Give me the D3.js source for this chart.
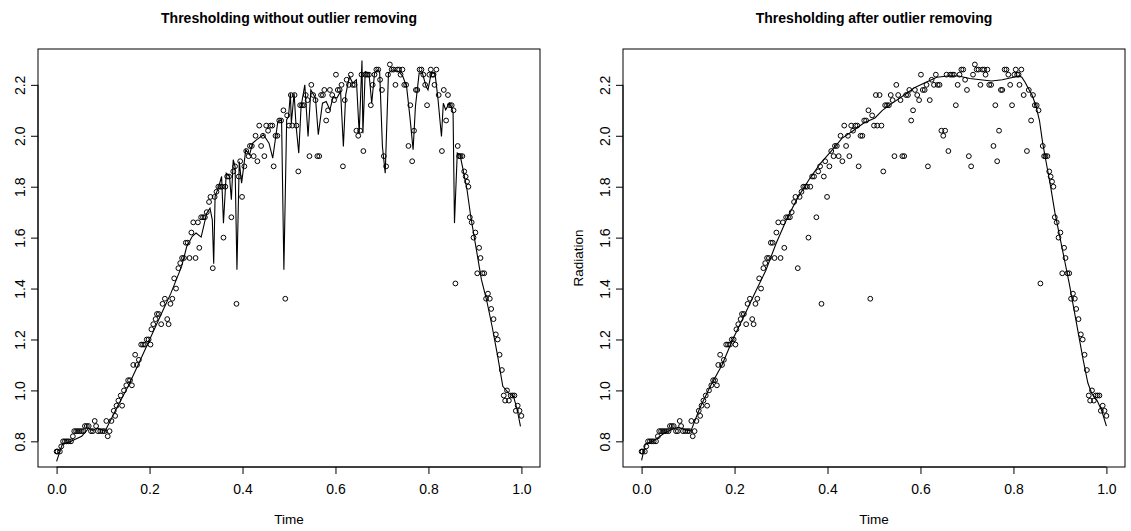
<!DOCTYPE html>
<html>
<head>
<meta charset="utf-8">
<script src="https://cdn.jsdelivr.net/npm/d3@7"></script>
<style>
  body { margin: 0; background: #fff; }
  text { font-family: "Liberation Sans", Arial, sans-serif; fill: #000; }
</style>
</head>
<body>
<svg id="svg" width="1131" height="531"></svg>
<script>
// observations (time scaled to [0,1])
const time = [
  0.000, 0.002, 0.007, 0.010, 0.014, 0.018, 0.022, 0.026, 0.031, 0.035,
  0.038, 0.042, 0.046, 0.050, 0.054, 0.058, 0.061, 0.065, 0.069, 0.074,
  0.078, 0.082, 0.085, 0.089, 0.094, 0.099, 0.103, 0.107, 0.110, 0.114,
  0.118, 0.123, 0.126, 0.129, 0.133, 0.138, 0.141, 0.145, 0.150, 0.154,
  0.158, 0.162, 0.165, 0.169, 0.173, 0.177, 0.182, 0.186, 0.190, 0.194,
  0.198, 0.202, 0.204, 0.208, 0.213, 0.216, 0.220, 0.225, 0.228, 0.233,
  0.238, 0.241, 0.245, 0.249, 0.253, 0.257, 0.262, 0.266, 0.270, 0.274,
  0.278, 0.282, 0.286, 0.290, 0.294, 0.299, 0.304, 0.307, 0.311, 0.315,
  0.319, 0.323, 0.328, 0.331, 0.336, 0.340, 0.344, 0.348, 0.352, 0.356,
  0.359, 0.363, 0.367, 0.371, 0.376, 0.380, 0.384, 0.387, 0.392, 0.395,
  0.399, 0.404, 0.408, 0.413, 0.416, 0.420, 0.424, 0.428, 0.432, 0.436,
  0.440, 0.444, 0.447, 0.451, 0.455, 0.460, 0.464, 0.467, 0.471, 0.475,
  0.479, 0.483, 0.488, 0.492, 0.496, 0.500, 0.504, 0.507, 0.512, 0.516,
  0.520, 0.524, 0.528, 0.532, 0.536, 0.540, 0.544, 0.548, 0.552, 0.557,
  0.561, 0.565, 0.569, 0.573, 0.576, 0.580, 0.584, 0.588, 0.593, 0.597,
  0.601, 0.605, 0.609, 0.613, 0.616, 0.620, 0.624, 0.629, 0.633, 0.637,
  0.641, 0.645, 0.649, 0.653, 0.656, 0.660, 0.664, 0.668, 0.672, 0.676,
  0.680, 0.684, 0.688, 0.692, 0.696, 0.700, 0.704, 0.709, 0.713, 0.717,
  0.721, 0.725, 0.729, 0.733, 0.737, 0.740, 0.744, 0.748, 0.752, 0.757,
  0.761, 0.765, 0.769, 0.773, 0.776, 0.781, 0.785, 0.789, 0.793, 0.797,
  0.802, 0.805, 0.808, 0.811, 0.813, 0.817, 0.822, 0.829, 0.833, 0.838,
  0.842, 0.846, 0.850, 0.854, 0.858, 0.863, 0.866, 0.869, 0.873, 0.877,
  0.880, 0.883, 0.886, 0.889, 0.893, 0.897, 0.901, 0.905, 0.909, 0.912,
  0.916, 0.920, 0.924, 0.928, 0.932, 0.935, 0.940, 0.945, 0.949, 0.953,
  0.958, 0.962, 0.965, 0.969, 0.973, 0.977, 0.981, 0.985, 0.988, 0.992,
  0.996, 1.000
]
const radiation = [
  0.76, 0.76, 0.76, 0.78, 0.80, 0.80, 0.80, 0.80, 0.80, 0.82,
  0.84, 0.84, 0.84, 0.84, 0.84, 0.84, 0.86, 0.86, 0.86, 0.84,
  0.84, 0.88, 0.86, 0.84, 0.84, 0.84, 0.84, 0.88, 0.82, 0.84,
  0.88, 0.92, 0.90, 0.94, 0.96, 0.98, 0.94, 1.00, 1.02, 1.04,
  1.04, 1.02, 1.10, 1.14, 1.10, 1.12, 1.18, 1.18, 1.18, 1.20,
  1.20, 1.18, 1.24, 1.26, 1.28, 1.30, 1.30, 1.26, 1.34, 1.36,
  1.28, 1.26, 1.34, 1.36, 1.44, 1.40, 1.48, 1.50, 1.52, 1.52,
  1.58, 1.58, 1.52, 1.62, 1.66, 1.52, 1.66, 1.56, 1.68, 1.68,
  1.68, 1.70, 1.74, 1.76, 1.48, 1.76, 1.78, 1.80, 1.80, 1.80,
  1.60, 1.80, 1.84, 1.84, 1.68, 1.86, 1.88, 1.34, 1.84, 1.90,
  1.76, 1.88, 1.94, 1.92, 1.96, 1.96, 1.92, 2.00, 1.90, 2.04,
  1.96, 2.00, 1.92, 2.04, 2.02, 2.04, 2.04, 1.88, 2.00, 2.00,
  2.06, 2.06, 2.10, 1.36, 2.08, 2.04, 2.16, 2.04, 2.16, 2.04,
  1.86, 2.12, 2.12, 2.12, 2.16, 2.14, 1.92, 2.20, 2.16, 2.14,
  1.92, 1.92, 2.16, 2.16, 2.18, 2.06, 2.10, 2.18, 2.16, 2.14,
  2.24, 2.18, 2.18, 2.20, 1.88, 2.14, 2.22, 2.20, 2.24, 2.20,
  2.20, 2.02, 2.00, 2.02, 2.24, 1.94, 2.24, 2.24, 2.24, 2.12,
  2.20, 2.24, 2.26, 2.26, 2.22, 2.18, 1.92, 1.88, 2.24, 2.28,
  2.26, 2.26, 2.20, 2.26, 2.26, 2.24, 2.26, 2.20, 2.20, 1.96,
  2.12, 1.90, 2.02, 2.18, 2.18, 2.26, 2.26, 2.24, 2.20, 2.12,
  2.24, 2.26, 2.24, 2.24, 2.20, 2.26, 2.16, 1.94, 2.18, 2.06,
  2.16, 2.12, 2.12, 2.10, 1.42, 1.96, 1.92, 1.92, 1.92, 1.86,
  1.84, 1.82, 1.80, 1.68, 1.66, 1.60, 1.62, 1.46, 1.56, 1.52,
  1.46, 1.46, 1.36, 1.38, 1.36, 1.32, 1.28, 1.22, 1.20, 1.14,
  1.08, 0.98, 0.96, 1.00, 0.96, 0.98, 0.98, 0.98, 0.92, 0.94,
  0.92, 0.90
]

// fit from thresholding on the raw data (left panel)
const rawFitTime = [
  0.000, 0.012, 0.031, 0.054, 0.069, 0.077, 0.088, 0.100, 0.104, 0.131,
  0.154, 0.177, 0.200, 0.223, 0.246, 0.269, 0.280, 0.292, 0.300, 0.311,
  0.323, 0.330, 0.335, 0.338, 0.341, 0.349, 0.355, 0.359, 0.365, 0.372,
  0.376, 0.380, 0.384, 0.388, 0.393, 0.398, 0.403, 0.407, 0.415, 0.422,
  0.430, 0.445, 0.457, 0.465, 0.476, 0.484, 0.489, 0.495, 0.499, 0.503,
  0.505, 0.511, 0.515, 0.521, 0.526, 0.534, 0.541, 0.547, 0.557, 0.563,
  0.572, 0.580, 0.588, 0.595, 0.603, 0.611, 0.617, 0.622, 0.630, 0.637,
  0.645, 0.651, 0.657, 0.659, 0.664, 0.672, 0.678, 0.684, 0.691, 0.695,
  0.701, 0.707, 0.714, 0.722, 0.737, 0.745, 0.753, 0.760, 0.767, 0.772,
  0.780, 0.787, 0.795, 0.799, 0.806, 0.814, 0.820, 0.828, 0.832, 0.837,
  0.845, 0.849, 0.853, 0.856, 0.862, 0.868, 0.876, 0.883, 0.891, 0.902,
  0.914, 0.925, 0.937, 0.949, 0.960, 0.972, 0.983, 0.991, 0.998
]
const rawFit = [
  0.721, 0.787, 0.800, 0.820, 0.852, 0.843, 0.852, 0.843, 0.839, 0.937,
  1.016, 1.107, 1.199, 1.291, 1.382, 1.487, 1.565, 1.605, 1.618, 1.602,
  1.696, 1.716, 1.670, 1.497, 1.762, 1.801, 1.840, 1.657, 1.853, 1.840,
  1.749, 1.906, 1.879, 1.474, 1.899, 1.814, 1.886, 1.945, 1.925, 1.971,
  1.984, 2.004, 1.971, 1.912, 2.056, 2.063, 1.474, 2.063, 2.076, 2.167,
  2.049, 2.167, 2.043, 1.932, 2.115, 2.200, 1.997, 2.180, 2.148, 2.004,
  2.128, 2.135, 2.102, 2.154, 2.148, 2.174, 1.958, 2.161, 2.233, 2.207,
  2.220, 2.010, 2.296, 2.010, 2.252, 2.246, 2.128, 2.246, 2.259, 2.252,
  1.958, 1.853, 2.246, 2.259, 2.252, 2.233, 2.193, 2.076, 1.945, 2.115,
  2.246, 2.246, 2.193, 2.180, 2.246, 2.246, 2.154, 1.997, 2.128, 2.102,
  2.128, 2.115, 2.089, 1.657, 1.932, 1.925, 1.853, 1.788, 1.683, 1.565,
  1.435, 1.356, 1.251, 1.134, 1.016, 0.990, 0.977, 0.924, 0.859
]

// fit after outlier removal (right panel)
const cleanFitTime = [
  0.000, 0.008, 0.024, 0.047, 0.063, 0.078, 0.094, 0.106, 0.125, 0.149,
  0.173, 0.196, 0.220, 0.243, 0.267, 0.290, 0.314, 0.337, 0.361, 0.384,
  0.408, 0.431, 0.455, 0.478, 0.502, 0.518, 0.541, 0.565, 0.588, 0.612,
  0.635, 0.659, 0.682, 0.706, 0.729, 0.753, 0.776, 0.800, 0.812, 0.818,
  0.825, 0.831, 0.840, 0.848, 0.856, 0.863, 0.870, 0.880, 0.889, 0.899,
  0.909, 0.920, 0.930, 0.940, 0.950, 0.960, 0.968, 0.980, 0.990, 1.000
]
const cleanFit = [
  0.725, 0.790, 0.800, 0.830, 0.845, 0.855, 0.846, 0.840, 0.930, 1.020,
  1.100, 1.200, 1.290, 1.380, 1.470, 1.580, 1.680, 1.760, 1.830, 1.890,
  1.940, 1.990, 2.020, 2.050, 2.070, 2.100, 2.130, 2.160, 2.190, 2.210,
  2.230, 2.235, 2.235, 2.225, 2.220, 2.215, 2.220, 2.230, 2.235, 2.230,
  2.210, 2.190, 2.160, 2.120, 2.060, 1.970, 1.900, 1.800, 1.700, 1.610,
  1.520, 1.420, 1.320, 1.220, 1.120, 1.030, 0.990, 0.960, 0.920, 0.860
]

const xTicks = [0, 0.2, 0.4, 0.6, 0.8, 1.0]
const yTicks = [0.8, 1.0, 1.2, 1.4, 1.6, 1.8, 2.0, 2.2]

const svg = d3.select('#svg')

function drawPanel(opts) {
  const g = svg.append('g')
  const pad = 0.04 * (d3.max(radiation) - d3.min(radiation))

  const xScale = d3.scaleLinear()
    .domain([-0.04, 1.04])
    .range([opts.left, opts.right])

  const yScale = d3.scaleLinear()
    .domain([d3.min(radiation) - pad, d3.max(radiation) + pad])
    .range([opts.bottom, opts.top])

  const clipId = 'clip' + opts.id
  g.append('clipPath').attr('id', clipId)
    .append('rect')
    .attr('x', opts.left).attr('y', opts.top)
    .attr('width', opts.right - opts.left)
    .attr('height', opts.bottom - opts.top)

  // points
  g.append('g')
    .selectAll('circle')
    .data(time)
    .join('circle')
    .attr('cx', d => xScale(d))
    .attr('cy', (d, i) => yScale(radiation[i]))
    .attr('r', 2.4)
    .attr('fill', 'none')
    .attr('stroke', '#000')
    .attr('stroke-width', 1)

  const lineGen = d3.line()
    .x(d => xScale(d[0]))
    .y(d => yScale(d[1]))
    .curve(d3.curveLinear)

  g.append('path')
    .attr('clip-path', `url(#${clipId})`)
    .attr('d', lineGen(d3.zip(opts.fitTime, opts.fit)))
    .attr('stroke', '#000')
    .attr('stroke-width', 1.1)
    .attr('fill', 'none')

  // box
  g.append('rect')
    .attr('x', opts.left).attr('y', opts.top)
    .attr('width', opts.right - opts.left)
    .attr('height', opts.bottom - opts.top)
    .attr('fill', 'none')
    .attr('stroke', '#000')
    .attr('stroke-width', 1)

  const xAxis = g.append('g')
    .attr('transform', `translate(0,${opts.bottom})`)
    .call(d3.axisBottom(xScale).tickValues(xTicks).tickFormat(d3.format('.1f')).tickSizeOuter(0).tickSize(7).tickPadding(10))
  xAxis.select('.domain')
    .attr('d', `M${xScale(0)},0H${xScale(1)}`)

  const yAxis = g.append('g')
    .attr('transform', `translate(${opts.left},0)`)
    .call(d3.axisLeft(yScale).tickValues(yTicks).tickFormat(d3.format('.1f')).tickSizeOuter(0).tickSize(7))
  yAxis.select('.domain')
    .attr('d', `M0,${yScale(0.8)}V${yScale(2.2)}`)
  yAxis.selectAll('.tick text')
    .attr('dy', 0)
    .attr('transform', 'rotate(-90)')
    .attr('x', null)
    .attr('y', -13)
    .attr('text-anchor', 'middle')

  svg.selectAll('.tick line, .domain').attr('stroke', '#000')
  g.selectAll('.tick text').attr('font-size', 14).attr('font-family', '"Liberation Sans", Arial, sans-serif')

  g.append('text')
    .attr('x', (opts.left + opts.right) / 2)
    .attr('y', 23)
    .attr('text-anchor', 'middle')
    .attr('font-weight', 'bold')
    .attr('font-size', 14)
    .text(opts.title)

  g.append('text')
    .attr('x', (opts.left + opts.right) / 2)
    .attr('y', 524)
    .attr('text-anchor', 'middle')
    .attr('font-size', 13.5)
    .text('Time')

  if (opts.ylab) {
    g.append('text')
      .attr('transform', `translate(${opts.left - 40},${(opts.top + opts.bottom) / 2}) rotate(-90)`)
      .attr('text-anchor', 'middle')
      .attr('font-size', 13.5)
      .text(opts.ylab)
  }
}

drawPanel({
  id: 'a', left: 38, right: 540, top: 49, bottom: 467,
  title: 'Thresholding without outlier removing',
  fitTime: rawFitTime, fit: rawFit
})

drawPanel({
  id: 'b', left: 623, right: 1125, top: 49, bottom: 467,
  title: 'Thresholding after outlier removing',
  ylab: 'Radiation',
  fitTime: cleanFitTime, fit: cleanFit
})
</script>
</body>
</html>
